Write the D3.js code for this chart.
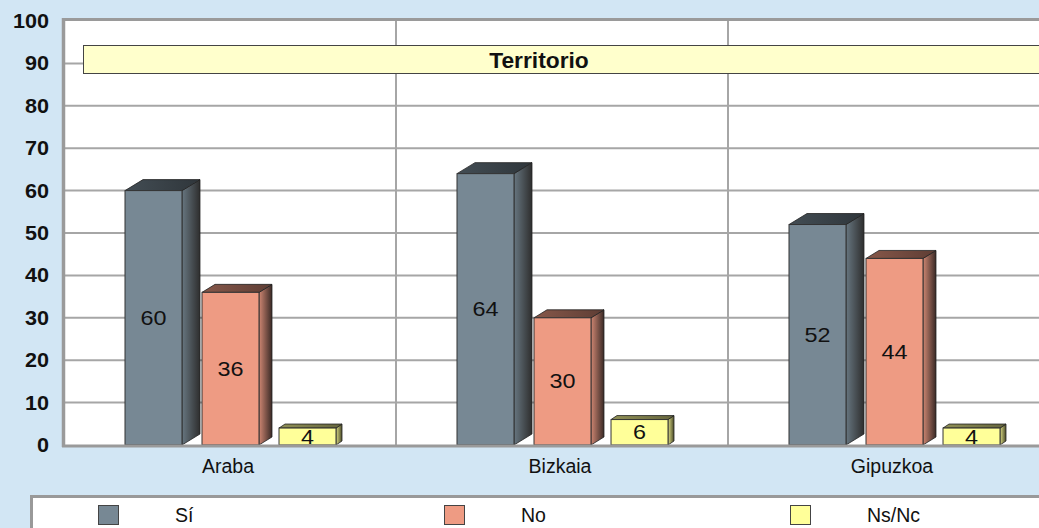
<!DOCTYPE html>
<html><head><meta charset="utf-8">
<script src="https://cdn.jsdelivr.net/npm/d3@7"></script>
<style>html,body{margin:0;padding:0;background:#D2E6F4;overflow:hidden}</style>
</head><body>
<script>
const categories = ["Araba", "Bizkaia", "Gipuzkoa"];
const series = ["Sí", "No", "Ns/Nc"];
const valuesSi = [60, 64, 52];
const valuesNo = [36, 30, 44];
const valuesNsNc = [4, 6, 4];
const yTicks = [0, 10, 20, 30, 40, 50, 60, 70, 80, 90, 100];
const title = "Territorio";

const seriesValues = [valuesSi, valuesNo, valuesNsNc];
const colors = ["#778894", "#EE9B83", "#FFFF99"];
const sideDark = ["#2e2e2e", "#3a2a26", "#4a4a2a"];
const depthX = [18, 13, 6];
const depthY = [11, 8, 4];

const W = 1039, H = 528;
const svg = d3.select("body").append("svg").attr("width", W).attr("height", H)
  .style("font-family", "'Liberation Sans', Arial, sans-serif");

svg.append("rect").attr("width", W).attr("height", H).attr("fill", "#D2E6F4");

const x = d3.scaleBand().domain(categories).range([64, 1060]).paddingInner(0).paddingOuter(0);
const xs = d3.scaleBand().domain(series).range([61, 272]).paddingInner(0.26).paddingOuter(0);
const y = d3.scaleLinear().domain([0, 100]).range([445, 21]);

// plot area
svg.append("rect").attr("x", 64).attr("y", y(100)).attr("width", W).attr("height", y(0) - y(100)).attr("fill", "#fff");

// gridlines
svg.append("g").selectAll("line").data(yTicks.filter(d => d > 0 && d < 100)).join("line")
  .attr("x1", 64).attr("x2", W).attr("y1", d => y(d)).attr("y2", d => y(d))
  .attr("stroke", "#A6A6A6").attr("stroke-width", 2);
svg.append("g").selectAll("line").data(categories.slice(1)).join("line")
  .attr("x1", d => x(d)).attr("x2", d => x(d)).attr("y1", y(100)).attr("y2", y(0))
  .attr("stroke", "#A6A6A6").attr("stroke-width", 2);

// frame
svg.append("line").attr("x1", 63).attr("x2", W).attr("y1", y(100) - 1.5).attr("y2", y(100) - 1.5).attr("stroke", "#9a9a9a").attr("stroke-width", 3);
svg.append("line").attr("x1", 63.5).attr("x2", 63.5).attr("y1", y(100) - 3).attr("y2", y(0) + 2).attr("stroke", "#9a9a9a").attr("stroke-width", 3.5);

// title box
svg.append("rect").attr("x", 83.5).attr("y", 45.5).attr("width", 1000).attr("height", 28)
  .attr("fill", "#FFFFCC").attr("stroke", "#444").attr("stroke-width", 1);
svg.append("text").attr("transform", "translate(539,68) scale(1.06,1)").attr("text-anchor", "middle")
  .attr("font-size", 21.5).attr("font-weight", "bold").attr("fill", "#111").text(title);

// gradients
const defs = svg.append("defs");
series.forEach((s, i) => {
  const g = defs.append("linearGradient").attr("id", "side" + i).attr("x1", 0).attr("x2", 1).attr("y1", 0).attr("y2", 0);
  g.append("stop").attr("offset", 0).attr("stop-color", d3.color(colors[i]).darker(0.4));
  g.append("stop").attr("offset", 1).attr("stop-color", sideDark[i]);
  const t = defs.append("linearGradient").attr("id", "top" + i).attr("x1", 0).attr("x2", 1).attr("y1", 0).attr("y2", 0);
  t.append("stop").attr("offset", 0).attr("stop-color", d3.color(colors[i]).darker(1.6));
  t.append("stop").attr("offset", 1).attr("stop-color", d3.color(colors[i]).darker(2.6));
});

// bars
const bars = [];
categories.forEach((c, ci) => series.forEach((s, si) => bars.push({c, s, si, v: seriesValues[si][ci]})));
const bg = svg.append("g");
bars.forEach(b => {
  const x0 = x(b.c) + xs(b.s), w = xs.bandwidth();
  const yt = y(b.v), yb = y(0);
  const dx = depthX[b.si], dy = depthY[b.si];
  const g = bg.append("g");
  g.append("polygon").attr("points", [[x0 + w, yt], [x0 + w + dx, yt - dy], [x0 + w + dx, yb - dy], [x0 + w, yb]].join(" "))
    .attr("fill", `url(#side${b.si})`).attr("stroke", "#222").attr("stroke-width", 0.8);
  g.append("polygon").attr("points", [[x0, yt], [x0 + dx, yt - dy], [x0 + w + dx, yt - dy], [x0 + w, yt]].join(" "))
    .attr("fill", `url(#top${b.si})`).attr("stroke", "#222").attr("stroke-width", 0.8);
  g.append("rect").attr("x", x0).attr("y", yt).attr("width", w).attr("height", yb - yt)
    .attr("fill", colors[b.si]).attr("stroke", "#333").attr("stroke-width", 1);
  const cx = x0 + w / 2, cy = (yt + yb) / 2 + 7;
  g.append("text").attr("transform", `translate(${cx},${cy}) scale(1.17,1)`).attr("text-anchor", "middle")
    .attr("font-size", 20).attr("fill", "#111").text(b.v);
});

// baseline
svg.append("line").attr("x1", 62).attr("x2", W).attr("y1", y(0) + 1).attr("y2", y(0) + 1).attr("stroke", "#9a9a9a").attr("stroke-width", 3);

// y ticks
svg.append("g").selectAll("text").data(yTicks).join("text")
  .attr("transform", d => `translate(49,${y(d) + 7}) scale(1.08,1)`).attr("text-anchor", "end")
  .attr("font-size", 20).attr("font-weight", "bold").attr("fill", "#111").text(d => d);

// x labels
svg.append("g").selectAll("text").data(categories).join("text")
  .attr("x", d => x(d) + x.bandwidth() / 2 - 2).attr("y", 473).attr("text-anchor", "middle")
  .attr("font-size", 19.5).attr("fill", "#111").text(d => d);

// legend
svg.append("rect").attr("x", 31.5).attr("y", 496.5).attr("width", 1100).attr("height", 100)
  .attr("fill", "#fff").attr("stroke", "#999").attr("stroke-width", 3);
const legX = [98, 444, 790];
series.forEach((s, i) => {
  svg.append("rect").attr("x", legX[i] + 0.5).attr("y", 505.5).attr("width", 20).attr("height", 19)
    .attr("fill", colors[i]).attr("stroke", "#444").attr("stroke-width", 1);
  svg.append("text").attr("x", legX[i] + 77).attr("y", 522).attr("font-size", 19.5).attr("fill", "#111").text(s);
});
</script>
</body></html>
